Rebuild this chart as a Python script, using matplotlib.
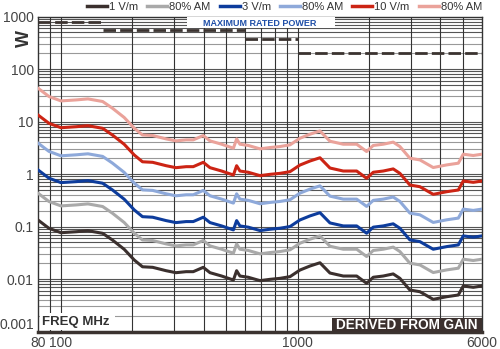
import numpy as np
import matplotlib.pyplot as plt
from matplotlib.patches import Rectangle

plt.rcParams['font.family'] = ['Liberation Sans', 'DejaVu Sans']

# forward power needed for 1 V/m, read along the frequency sweep
freq_mhz = [80, 89, 100, 116, 130, 150, 165, 185, 204, 221, 244, 278, 306, 338,
            362, 399, 426, 477, 535, 552, 570, 618, 693, 764, 842, 928, 1021,
            1127, 1241, 1368, 1557, 1774, 1954, 2084, 2296, 2530, 2700, 2976,
            3280, 3734, 4255, 4766, 5000, 5511, 6000]
power_1vm = [0.133, 0.0925, 0.0762, 0.0796, 0.0832, 0.0742, 0.0553, 0.0368,
             0.0230, 0.0171, 0.0167, 0.0144, 0.0132, 0.0138, 0.0138, 0.0167,
             0.0132, 0.0114, 0.00957, 0.0144, 0.0114, 0.0108, 0.0093, 0.00986,
             0.0103, 0.0111, 0.0148, 0.0177, 0.0204, 0.0130, 0.0114, 0.0114,
             0.00828, 0.0108, 0.0114, 0.0125, 0.0103, 0.00617, 0.00573, 0.0041,
             0.0046, 0.00496, 0.00736, 0.00695, 0.00736]

# power ratio of each test level relative to 1 V/m (E^2, 80% AM peak = 1.8^2)
series_labels = ['1 V/m', '80% AM', '3 V/m', '80% AM', '10 V/m', '80% AM']
power_ratio = [1, 3.24, 9, 29.16, 100, 324]
series_colors = ['#3b302e', '#a9a9a9', '#0d3c9c', '#8ea9da', '#cc2414', '#eaa29a']

# amplifier maximum rated power by band
band_start = [80, 150, 600, 1000]
band_stop = [150, 600, 1000, 6000]
band_power = [800, 550, 380, 200]

vgrid_freqs = [90, 100, 200, 300, 400, 500, 600, 700, 800, 900, 1000,
               2000, 3000, 4000, 5000]
x_ticks = [80, 100, 1000, 6000]
y_ticks = [0.001, 0.01, 0.1, 1, 10, 100, 1000]
y_ticklabels = ['0.001', '0.01', '0.1', '1', '10', '100', '1000']

fig = plt.figure(figsize=(5, 3.49), dpi=100)
ax = fig.add_axes([0.076, 0.0501, 0.888, 0.9026])
ax.set_xscale('log')
ax.set_yscale('log')
ax.set_xlim(80, 6000)
ax.set_ylim(0.001, 1000)

# horizontal grid: every 1..9 step per decade
for dec in [0.001, 0.01, 0.1, 1, 10, 100]:
    for m in range(1, 10):
        v = dec * m
        c = '#555555' if m == 1 or m >= 5 else '#999999'
        ax.axhline(v, color=c, lw=0.8, zorder=1)
for f in vgrid_freqs:
    ax.axvline(f, color='#333333', lw=0.8, zorder=1)

lines = []
for lab, r, c in zip(series_labels, power_ratio, series_colors):
    ln, = ax.plot(freq_mhz, np.array(power_1vm) * r, color=c, lw=2.2,
                  solid_joinstyle='round', zorder=3, label=lab)
    lines.append(ln)

for f0, f1, p in zip(band_start, band_stop, band_power):
    ax.plot([f0, f1], [p, p], color='#3b3330', lw=2.0, dashes=(4.5, 1.5),
            zorder=4)

ax.set_xticks(x_ticks)
ax.set_xticklabels([str(t) for t in x_ticks])
ax.set_xticks([], minor=True)
ax.set_yticks(y_ticks)
ax.set_yticklabels(y_ticklabels)
ax.set_yticks([], minor=True)
ax.tick_params(length=0, labelsize=10, labelcolor='#444444')
ax.tick_params(axis='x', pad=3.5)
ax.tick_params(axis='y', pad=3)
ax.get_yticklabels()[0].set_va('bottom')

for s in ['top', 'right', 'left']:
    ax.spines[s].set_color('#333333')
    ax.spines[s].set_linewidth(1.0)
ax.spines['bottom'].set_color('#3b3330')
ax.spines['bottom'].set_linewidth(2.5)

ax.text(-0.03, 0.93, 'W', transform=ax.transAxes, rotation=90, fontsize=13,
        fontweight='bold', color='#333333', ha='center', va='center')

# white panels behind the captions
ax.add_patch(Rectangle((0.336, 0.9635), 0.333, 0.0365, transform=ax.transAxes,
                       fc='white', ec='none', zorder=4.5))
ax.text(0.5, 0.979, 'MAXIMUM RATED POWER', transform=ax.transAxes,
        fontsize=6.5, fontweight='bold', color='#1f4fa8', ha='center',
        va='center', zorder=5)

ax.add_patch(Rectangle((0.0045, 0.005), 0.1685, 0.054, transform=ax.transAxes,
                       fc='white', ec='none', zorder=4.5))
ax.text(0.009, 0.030, 'FREQ MHz', transform=ax.transAxes, fontsize=9.5,
        fontweight='bold', color='#333333', ha='left', va='center', zorder=5)

ax.add_patch(Rectangle((0.662, 0.0), 0.338, 0.043, transform=ax.transAxes,
                       fc='#3b302e', ec='none', zorder=4.5))
ax.text(0.831, 0.0215, 'DERIVED FROM GAIN', transform=ax.transAxes,
        fontsize=9.8, fontweight='bold', color='white', ha='center',
        va='center', zorder=5)

leg = fig.legend(handles=lines, loc='upper right', bbox_to_anchor=(0.964, 0.994),
                 ncol=6, frameon=False, fontsize=8, handlelength=1.8,
                 handletextpad=0.2, columnspacing=0.8, borderpad=0.0,
                 borderaxespad=0.0)
for t in leg.get_texts():
    t.set_color('#333333')
for h in leg.legend_handles:
    h.set_linewidth(2.5)

fig.savefig('out.png', dpi=100)
